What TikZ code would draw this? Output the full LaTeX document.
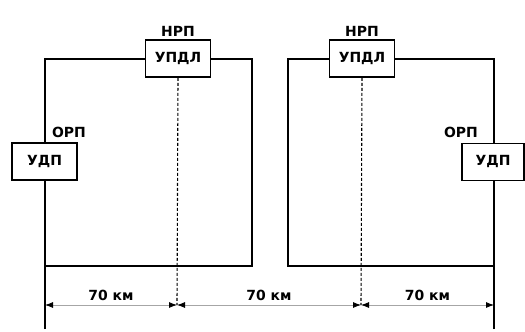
\documentclass[tikz,border=0pt]{standalone}
\usepackage{fontspec}
\setmainfont{DejaVu Sans}
\usetikzlibrary{positioning, arrows.meta, calc}

\begin{document}
\begin{tikzpicture}[
  x=1bp, y=-1bp,
  every node/.style={font=\bfseries\fontsize{14}{16}\selectfont, align=center},
  station/.style={rectangle, draw, line width=1.6bp, fill=white,
                  inner sep=0pt, minimum width=65bp, minimum height=37bp},
  caption/.style={inner sep=1pt},
  wire/.style={line width=1.6bp},
  axis/.style={line width=1.1bp, dash pattern=on 3bp off 2bp},
  dim/.style={{Latex[length=8bp,width=6bp,color=black]}-{Latex[length=8bp,width=6bp,color=black]},
              line width=0.8bp, gray!70}
]
\useasboundingbox (0,0) rectangle (525,331);

% corners and free ends
\coordinate (tlL) at (45,59);
\coordinate (trL) at (252,59);
\coordinate (brL) at (252,266);
\coordinate (blL) at (45,266);
\coordinate (endL) at (45,329);
\coordinate (tlR) at (288,59);
\coordinate (trR) at (494,59);
\coordinate (blR) at (288,266);
\coordinate (brR) at (494,266);
\coordinate (endR) at (494,329);
\coordinate (d0) at (45,305);
\coordinate (d1) at (177,305);
\coordinate (d2) at (361,305);
\coordinate (d3) at (494,305);

% left zone
\draw[wire] (endL) -- (tlL) -- (trL) -- (brL) -- (blL);
% right zone
\draw[wire] (endR) -- (trR) -- (tlR) -- (blR) -- (brR);

\node[station] (updlL) at (178,58.5) {УПДЛ};
\node[station] (updlR) at (362,58.5) {УПДЛ};
\node[station] (udpL) at (44.5,161.5) {УДП};
\node[station, minimum width=62bp] (udpR) at (493,162) {УДП};

\node[caption, above=2bp of updlL] (nrpL) {НРП};
\node[caption, above=2bp of updlR] (nrpR) {НРП};
\node[caption, anchor=south] (orpL) at (69,139) {ОРП};
\node[caption, anchor=south] (orpR) at (461,139) {ОРП};

\draw[axis] (updlL.south) -- (d1);
\draw[axis] (updlR.south) -- (d2);

\draw[dim] (d0) -- node[above=1bp, black] {70 км} (d1);
\draw[dim] (d1) -- node[above=1bp, black] {70 км} (d2);
\draw[dim] (d2) -- node[above=1bp, black] {70 км} (d3);
\end{tikzpicture}
\end{document}
